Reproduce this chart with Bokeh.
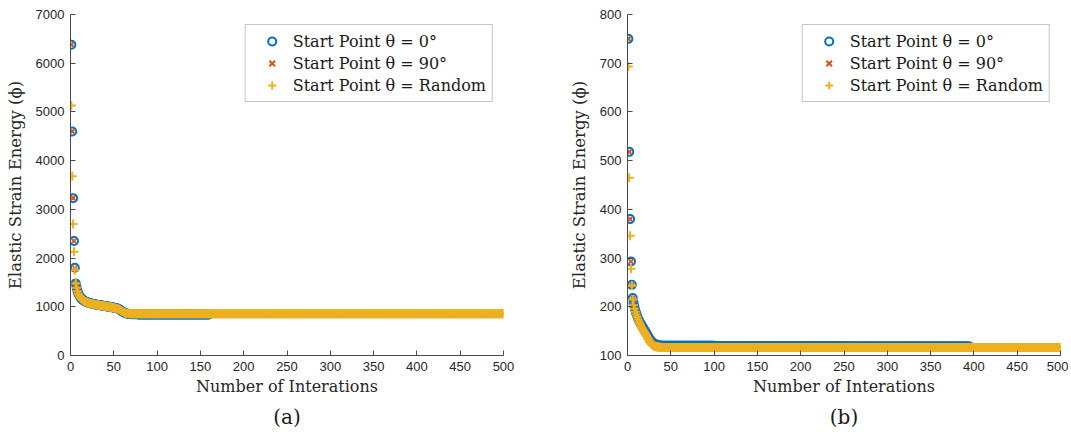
from bokeh.plotting import figure
from bokeh.layouts import row
from bokeh.models import Title, FixedTicker, Range1d
from bokeh.embed import file_html
from bokeh.resources import INLINE

# ---------------- data (a) ----------------
a_theta0_head = [6380, 4600, 3230, 2350, 1800, 1480,
                 1400, 1330, 1275, 1235, 1205, 1180, 1160, 1145, 1132, 1120, 1110, 1102, 1095, 1088,
                 1082, 1076, 1071, 1066, 1062, 1058, 1054, 1050, 1047, 1044, 1041, 1038, 1035, 1032, 1029, 1026, 1023, 1020, 1017, 1014,
                 1011, 1008, 1005, 1002, 999, 996, 993, 990, 986, 982, 978, 974, 970, 965, 958, 950, 940, 928, 915, 902,
                 890, 880, 872, 866, 861, 857, 854, 852, 850, 849, 848, 847, 846, 846, 845, 845, 845, 844, 844, 844]
a_theta0_plateau = [844] * 80
a_theta0 = a_theta0_head + a_theta0_plateau
a_theta90 = list(a_theta0)
a_random_head = [5130, 3680, 2700, 2130, 1750, 1480,
                 1390, 1320, 1268, 1228, 1198, 1174, 1155, 1140, 1127, 1116, 1106, 1098, 1091, 1085,
                 1079, 1073, 1068, 1064, 1060, 1056, 1052, 1048, 1045, 1042, 1039, 1036, 1033, 1030, 1027, 1024, 1021, 1018, 1015, 1012,
                 1009, 1006, 1003, 1000, 997, 994, 991, 988, 984, 980, 976, 972, 967, 962, 955, 947, 937, 926, 914, 902,
                 891, 882, 875, 869, 865, 862, 860, 859, 858, 857, 857, 856, 856, 856, 855, 855, 855, 855, 855, 855]
a_random_plateau = [855] * 420
a_random = a_random_head + a_random_plateau

# ---------------- data (b) ----------------
b_theta0_head = [750, 518, 380, 293, 245, 218,
                 208, 200, 193, 187, 182, 177, 173, 169, 166, 163, 160, 157, 154, 151, 148, 145, 142, 139,
                 136, 133, 130, 128, 126, 125, 124, 123, 122.5, 122, 121.5, 121, 120.5, 120.5, 120, 120]
b_theta0_plateau = [120] * 60 + [119] * 150 + [118.5] * 145
b_theta0 = b_theta0_head + b_theta0_plateau
b_theta90 = list(b_theta0)
b_random_head = [693, 465, 346, 278, 243, 215,
                 203, 196, 190, 184, 179, 174, 170, 166, 162, 158, 155, 152, 149, 146, 143, 140, 137, 134,
                 131, 128, 125, 123, 121, 120, 119, 118.5, 118, 117.5, 117.5, 117, 117, 117, 116.5, 116.5]
b_random_plateau = [116.5] * 460
b_random = b_random_head + b_random_plateau

x_ticks = [0, 50, 100, 150, 200, 250, 300, 350, 400, 450, 500]
a_y_ticks = [0, 1000, 2000, 3000, 4000, 5000, 6000, 7000]
b_y_ticks = [100, 200, 300, 400, 500, 600, 700, 800]

labels = ["Start Point \u03b8 = 0\u00b0", "Start Point \u03b8 = 90\u00b0", "Start Point \u03b8 = Random"]

BLUE = "#0072BD"
RED = "#D95319"
YEL = "#EDB120"
SERIF = "DejaVu Serif"
SANS = "Liberation Sans"
AXC = "#4a4a4a"


def make(th0, th90, rnd, yticks, ylim, caption, width, mbl, mbr):
    p = figure(width=width, height=434, output_backend="svg", toolbar_location=None,
               x_range=Range1d(0, 500), y_range=Range1d(*ylim),
               min_border_left=mbl, min_border_right=mbr, min_border_top=14, min_border_bottom=79)
    p.scatter(list(range(1, len(th0) + 1)), th0, marker="circle", size=8, fill_color=None,
              line_color=BLUE, line_width=2, legend_label=labels[0])
    p.scatter(list(range(1, len(th90) + 1)), th90, marker="x", size=6,
              line_color=RED, line_width=2, legend_label=labels[1])
    p.scatter(list(range(1, len(rnd) + 1)), rnd, marker="cross", size=9,
              line_color=YEL, line_width=2, legend_label=labels[2])
    p.outline_line_color = None
    p.grid.visible = False
    for ax in (p.xaxis[0], p.yaxis[0]):
        ax.axis_line_color = AXC
        ax.major_tick_line_color = AXC
        ax.minor_tick_line_color = None
        ax.major_tick_in = 5
        ax.major_tick_out = 0
        ax.major_label_text_font = SANS
        ax.major_label_text_font_size = "13px"
        ax.major_label_text_color = "#262626"
        ax.axis_label_text_font = SERIF
        ax.axis_label_text_font_style = "normal"
        ax.axis_label_text_color = "#262626"
    p.xaxis.axis_label_text_font_size = "16px"
    p.yaxis.axis_label_text_font_size = "16.5px"
    p.xaxis.ticker = FixedTicker(ticks=x_ticks)
    p.yaxis.ticker = FixedTicker(ticks=yticks)
    p.xaxis.axis_label = "Number of Interations"
    p.yaxis.axis_label = "Elastic Strain Energy (\u03d5)"
    p.xaxis.major_label_standoff = 6
    p.yaxis.major_label_standoff = 6
    p.xaxis.axis_label_standoff = 3
    p.yaxis.axis_label_standoff = 8
    lg = p.legend[0]
    lg.location = "top_right"
    lg.margin = 10
    lg.padding = 6
    lg.spacing = 2
    lg.label_text_font = SERIF
    lg.label_text_font_size = "16px"
    lg.label_text_color = "#1a1a1a"
    lg.label_standoff = 1
    lg.glyph_width = 40
    lg.glyph_height = 20
    lg.label_height = 20
    lg.border_line_color = "#8c8c8c"
    lg.border_line_width = 1
    lg.background_fill_color = "white"
    lg.background_fill_alpha = 1
    p.add_layout(Title(text=caption, align="center", text_font=SERIF, text_font_size="20px",
                       text_font_style="normal", text_color="#1a1a1a", standoff=8), "below")
    return p


p1 = make(a_theta0, a_theta90, a_random, a_y_ticks, (0, 7000), "(a)", 535, 70, 32)
p2 = make(b_theta0, b_theta90, b_random, b_y_ticks, (100, 800), "(b)", 533, 92, 8)

layout = row(p1, p2)
open("out.html", "w").write(file_html(layout, INLINE))
